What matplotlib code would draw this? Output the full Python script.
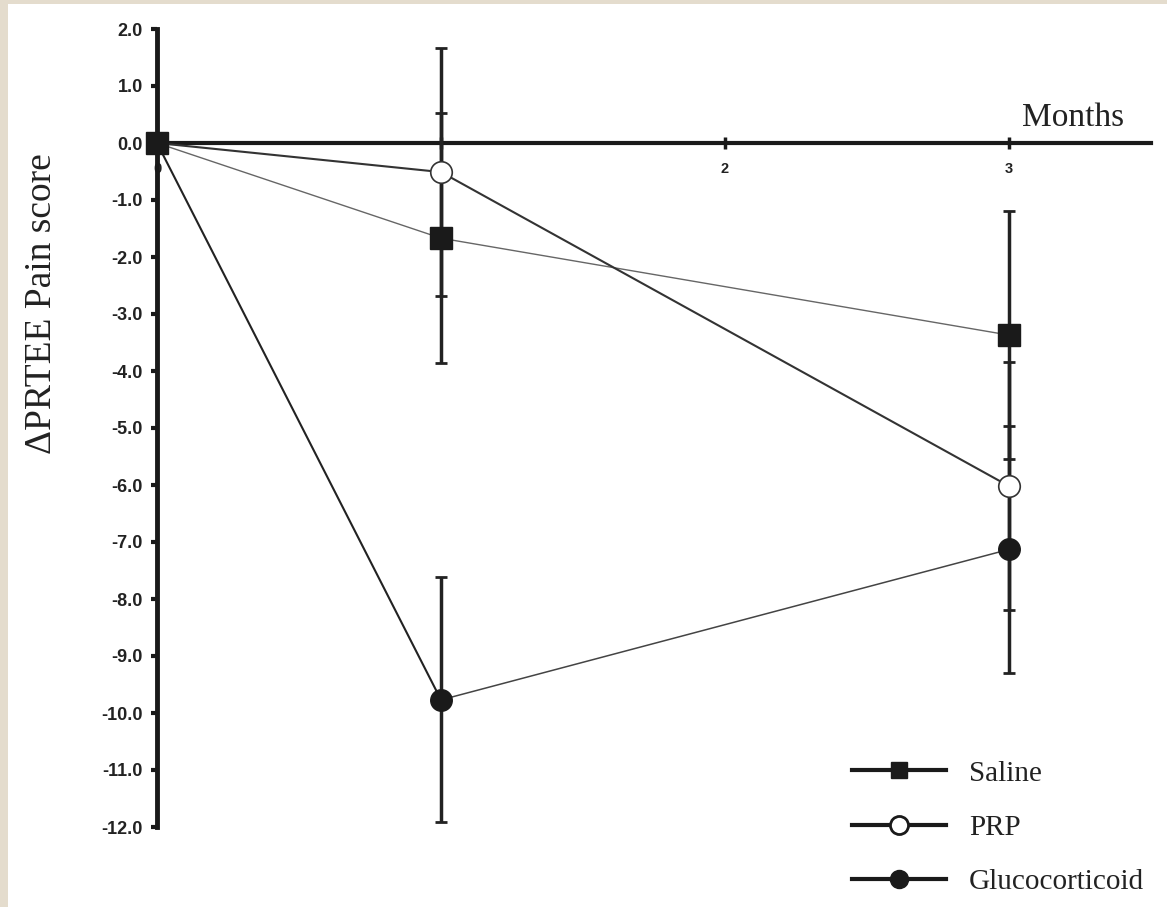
import matplotlib.pyplot as plt
from matplotlib.lines import Line2D
from matplotlib.patches import Rectangle

months = [0, 1, 3]
saline = [0.0, -1.67, -3.37]
prp = [0.0, -0.51, -6.02]
gluco = [0.0, -9.77, -7.13]
saline_err = [0.0, 2.19, 2.18]
prp_err = [0.0, 2.17, 2.17]
gluco_err = [0.0, 2.15, 2.17]

y_ticks = [2, 1, 0, -1, -2, -3, -4, -5, -6, -7, -8, -9, -10, -11, -12]
x_ticks = [0, 1, 2, 3]
labels = ["Saline", "PRP", "Glucocorticoid"]

fig = plt.figure(figsize=(11.67, 9.07), dpi=100)
fig.patch.set_facecolor("#e4dccd")
# white panel behind everything
fig.patches.append(Rectangle((8 / 1167, 0), 1, 1 - 4 / 907, transform=fig.transFigure,
                             facecolor="white", edgecolor="none", zorder=-5))

ax = fig.add_axes([157 / 1167, 80 / 907, 994 / 1167, 798 / 907])
ax.set_facecolor("none")
ax.set_xlim(0, 3.5)
ax.set_ylim(-12, 2)

for s in ["top", "right"]:
    ax.spines[s].set_visible(False)
ax.spines["bottom"].set_position(("data", 0))
ax.spines["left"].set_position(("data", 0))
ax.spines["bottom"].set_linewidth(3)
ax.spines["left"].set_linewidth(3.5)
ax.spines["bottom"].set_color("#1a1a1a")
ax.spines["left"].set_color("#1a1a1a")

ax.set_yticks(y_ticks)
ax.set_yticklabels([f"{v:.1f}" for v in y_ticks], fontsize=13, fontweight="bold",
                   family="Liberation Sans", color="#222222")
ax.tick_params(axis="y", direction="out", length=4, width=3, pad=6, color="#1a1a1a")

ax.set_xticks(x_ticks)
ax.set_xticklabels([str(v) for v in x_ticks], fontsize=10.5, fontweight="bold",
                   family="Liberation Sans", color="#222222")
ax.tick_params(axis="x", direction="inout", length=8, width=2.5, pad=10, color="#1a1a1a")
for lab in ax.get_xticklabels():
    lab.set_zorder(1)

# error bars
ax.errorbar(months[1:], saline[1:], yerr=saline_err[1:], fmt="none", ecolor="#222222",
            elinewidth=2.5, capsize=4, capthick=2, zorder=3, clip_on=False)
ax.errorbar(months[1:], prp[1:], yerr=prp_err[1:], fmt="none", ecolor="#222222",
            elinewidth=2.5, capsize=4, capthick=2, zorder=3, clip_on=False)
ax.errorbar(months[1:], gluco[1:], yerr=gluco_err[1:], fmt="none", ecolor="#222222",
            elinewidth=2.5, capsize=4, capthick=2, zorder=3, clip_on=False)

# lines
ax.plot(months, saline, color="#666666", lw=1.0, zorder=4)
ax.plot(months, prp, color="#333333", lw=1.5, zorder=4)
ax.plot(months[:2], gluco[:2], color="#222222", lw=1.5, zorder=4)
ax.plot(months[1:], gluco[1:], color="#444444", lw=1.1, zorder=4)

# markers
ax.plot(months, saline, ls="none", marker="s", ms=15.5, mfc="#1a1a1a", mec="#1a1a1a",
        zorder=6, clip_on=False)
ax.plot(months[1:], prp[1:], ls="none", marker="o", ms=15.5, mfc="white", mec="#333333",
        mew=1.2, zorder=5, clip_on=False)
ax.plot(months[1:], gluco[1:], ls="none", marker="o", ms=15.5, mfc="#1a1a1a", mec="#1a1a1a",
        zorder=5, clip_on=False)

ax.text(3.225, 0.3, "Months", fontsize=24, family="Liberation Serif", color="#222222",
        ha="center", va="baseline")
fig.text(42 / 1167, 1 - 304 / 907, "\u0394PRTEE Pain score", rotation=90, fontsize=27,
         family="Liberation Serif", color="#222222", ha="center", va="center")

handles = [
    Line2D([], [], color="#1a1a1a", lw=3, marker="s", ms=12, mfc="#1a1a1a"),
    Line2D([], [], color="#1a1a1a", lw=3, marker="o", ms=13, mfc="white", mew=2),
    Line2D([], [], color="#1a1a1a", lw=3, marker="o", ms=13, mfc="#1a1a1a"),
]
leg = fig.legend(handles, labels, loc="upper left", bbox_to_anchor=(826 / 1167, 1 - 734 / 907),
                 frameon=False, handlelength=3.2, handletextpad=0.8, labelspacing=0.95,
                 prop={"family": "Liberation Serif", "size": 21})
for t in leg.get_texts():
    t.set_color("#222222")

fig.savefig("out.png", dpi=100, facecolor=fig.get_facecolor())
